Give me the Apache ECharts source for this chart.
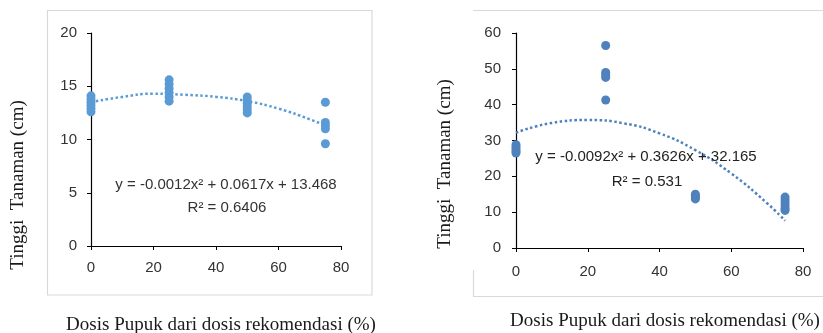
<!DOCTYPE html>
<html>
<head>
<meta charset="utf-8">
<script src="https://cdn.jsdelivr.net/npm/echarts@6/dist/echarts.min.js"></script>
<style>
  html, body { margin: 0; padding: 0; background: #fff; }
  #chart { width: 823px; height: 333px; }
</style>
</head>
<body>
<div id="chart"></div>
<script>
// data
var xTicks = [0, 20, 40, 60, 80];

// left panel: plant height (cm) by dose
var leftDose0 = [14.1, 13.8, 13.5, 13.2, 12.9, 12.6];
var leftDose25 = [15.6, 15.2, 14.8, 14.4, 14.0, 13.6];
var leftDose50 = [14.0, 13.7, 13.4, 13.1, 12.8, 12.5];
var leftDose75 = [13.5, 11.6, 11.3, 11.0, 9.6];
var leftTrendX = [0, 10, 20, 30, 40, 50, 60, 70, 75];
var leftTrendY = [13.5, 14.0, 14.3, 14.2, 14.0, 13.6, 12.9, 11.9, 11.3];
var leftEquation = 'y = -0.0012x² + 0.0617x + 13.468';
var leftR2 = 'R² = 0.6406';

// right panel
var rightDose0 = [28.8, 28.2, 27.6, 27.0, 26.5];
var rightDose25 = [56.5, 49.0, 48.3, 47.6, 41.3];
var rightDose50 = [15.0, 14.5, 14.0, 13.7];
var rightDose75 = [14.2, 13.4, 12.6, 11.8, 11.0, 10.5];
var rightTrendX = [0, 10, 20, 30, 40, 50, 60, 70, 75];
var rightTrendY = [32.2, 34.9, 35.7, 34.8, 32.0, 27.3, 20.8, 12.5, 7.6];
var rightEquation = 'y = -0.0092x² + 0.3626x + 32.165';
var rightR2 = 'R² = 0.531';

var yTitle = 'Tinggi  Tanaman (cm)';
var xTitle = 'Dosis Pupuk dari dosis rekomendasi (%)';

function points(dose, values) {
    return values.map(function (v) { return [dose, v]; });
}
function pairs(xs, ys) {
    return xs.map(function (x, i) { return [x, ys[i]]; });
}

var leftColor = '#5b9bd5';
var rightColor = '#4f81bd';
var tickFont = { color: '#333', fontSize: 15, fontFamily: 'Liberation Sans' };

function xAxisFor(gridIndex, margin) {
    return {
        gridIndex: gridIndex, type: 'value', min: 0, max: 80, interval: 20,
        axisLine: { lineStyle: { color: '#000', width: 1.2 } },
        axisTick: { show: true, length: 4, lineStyle: { color: '#000' } },
        axisLabel: Object.assign({ margin: margin }, tickFont),
        splitLine: { show: false }
    };
}
function yAxisFor(gridIndex, max, interval, margin) {
    return {
        gridIndex: gridIndex, type: 'value', min: 0, max: max, interval: interval,
        axisLine: { show: true, lineStyle: { color: '#000', width: 1.2 } },
        axisTick: { show: true, length: 4, lineStyle: { color: '#000' } },
        axisLabel: Object.assign({ margin: margin }, tickFont),
        splitLine: { show: false }
    };
}
function scatter(idx, data, color) {
    return {
        type: 'scatter', xAxisIndex: idx, yAxisIndex: idx, data: data,
        symbol: 'circle', symbolSize: 9, itemStyle: { color: color, opacity: 1 }, z: 3
    };
}
function trend(idx, data, color) {
    return {
        type: 'line', xAxisIndex: idx, yAxisIndex: idx, data: data, smooth: true,
        showSymbol: false, z: 2,
        lineStyle: { color: color, width: 2.5, type: [2.5, 2.5] }
    };
}

var chart = echarts.init(document.getElementById('chart'));

var option = {
    animation: false,
    grid: [
        { left: 91, top: 33, width: 250, height: 213 },
        { left: 516, top: 33, width: 287, height: 215 }
    ],
    xAxis: [xAxisFor(0, 14), xAxisFor(1, 16)],
    yAxis: [yAxisFor(0, 20, 5, 14), yAxisFor(1, 60, 10, 15)],
    series: [
        trend(0, pairs(leftTrendX, leftTrendY), leftColor),
        scatter(0, points(0, leftDose0), leftColor),
        scatter(0, points(25, leftDose25), leftColor),
        scatter(0, points(50, leftDose50), leftColor),
        scatter(0, points(75, leftDose75), leftColor),
        trend(1, pairs(rightTrendX, rightTrendY), rightColor),
        scatter(1, points(0, rightDose0), rightColor),
        scatter(1, points(25, rightDose25), rightColor),
        scatter(1, points(50, rightDose50), rightColor),
        scatter(1, points(75, rightDose75), rightColor)
    ],
    graphic: [
        // chart frames
        { type: 'rect', shape: { x: 47.5, y: 10.5, width: 324.5, height: 284.5 },
          style: { fill: 'none', stroke: '#d9d9d9', lineWidth: 1.2 } },
        { type: 'line', shape: { x1: 473, y1: 10.5, x2: 823, y2: 10.5 },
          style: { stroke: '#d9d9d9', lineWidth: 1.2 } },
        { type: 'line', shape: { x1: 473, y1: 296.5, x2: 823, y2: 296.5 },
          style: { stroke: '#d9d9d9', lineWidth: 1.2 } },
        { type: 'line', shape: { x1: 473.5, y1: 270, x2: 473.5, y2: 297 },
          style: { stroke: '#d9d9d9', lineWidth: 1.2 } },
        // equations
        { type: 'text', x: 226, y: 185, z: 10,
          style: { text: leftEquation, fill: '#333', font: '15px "Liberation Sans"', textAlign: 'center', textVerticalAlign: 'middle' } },
        { type: 'text', x: 227, y: 208, z: 10,
          style: { text: leftR2, fill: '#333', font: '15px "Liberation Sans"', textAlign: 'center', textVerticalAlign: 'middle' } },
        { type: 'text', x: 646, y: 157, z: 10,
          style: { text: rightEquation, fill: '#222', font: '15px "Liberation Sans"', textAlign: 'center', textVerticalAlign: 'middle' } },
        { type: 'text', x: 647, y: 182, z: 10,
          style: { text: rightR2, fill: '#222', font: '15px "Liberation Sans"', textAlign: 'center', textVerticalAlign: 'middle' } },
        // axis titles
        { type: 'text', x: 18, y: 185, rotation: Math.PI / 2,
          style: { text: yTitle, fill: '#1a1a1a', font: '19px "Liberation Serif"', textAlign: 'center', textVerticalAlign: 'middle' } },
        { type: 'text', x: 445, y: 164, rotation: Math.PI / 2,
          style: { text: yTitle, fill: '#1a1a1a', font: '19px "Liberation Serif"', textAlign: 'center', textVerticalAlign: 'middle' } },
        { type: 'text', x: 221, y: 325,
          style: { text: xTitle, fill: '#1a1a1a', font: '19px "Liberation Serif"', textAlign: 'center', textVerticalAlign: 'middle' } },
        { type: 'text', x: 665, y: 321,
          style: { text: xTitle, fill: '#1a1a1a', font: '19px "Liberation Serif"', textAlign: 'center', textVerticalAlign: 'middle' } }
    ]
};

chart.setOption(option);
</script>
</body>
</html>
